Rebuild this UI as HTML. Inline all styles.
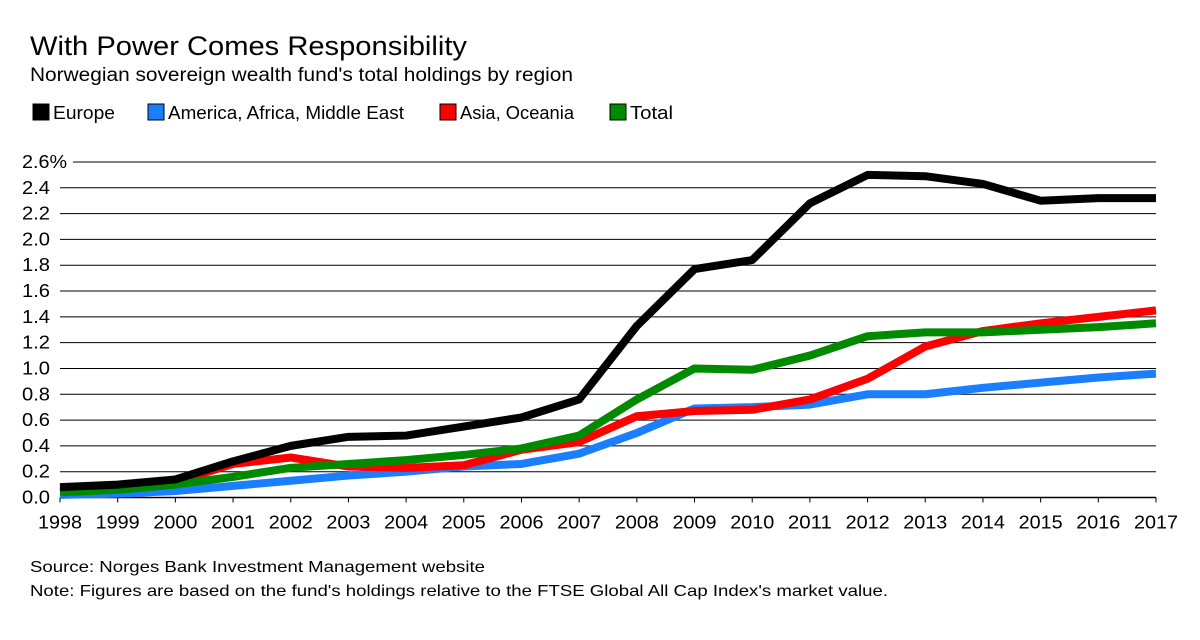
<!DOCTYPE html>
<html><head><meta charset="utf-8"><style>
body{margin:0;background:#fff;font-family:"Liberation Sans",Arial,sans-serif;}
svg text{font-family:"Liberation Sans",Arial,sans-serif;fill:#000;}
</style></head><body>
<svg width="1200" height="635" xmlns="http://www.w3.org/2000/svg">
<text x="30" y="55" font-size="27" textLength="437" lengthAdjust="spacingAndGlyphs">With Power Comes Responsibility</text>
<text x="30" y="81" font-size="19" textLength="543" lengthAdjust="spacingAndGlyphs">Norwegian sovereign wealth fund's total holdings by region</text>
<g id="legend"></g>
<g id="grid"></g>
<g id="series"></g>
<text x="30" y="572" font-size="16" textLength="455" lengthAdjust="spacingAndGlyphs">Source: Norges Bank Investment Management website</text>
<text x="30" y="596" font-size="16" textLength="858" lengthAdjust="spacingAndGlyphs">Note: Figures are based on the fund's holdings relative to the FTSE Global All Cap Index's market value.</text>
</svg>
<script>
const years=[1998,1999,2000,2001,2002,2003,2004,2005,2006,2007,2008,2009,2010,2011,2012,2013,2014,2015,2016,2017];
const europe=[0.08,0.10,0.14,0.28,0.40,0.47,0.48,0.55,0.62,0.76,1.33,1.77,1.84,2.28,2.50,2.49,2.43,2.30,2.32,2.32];
const america=[0.02,0.03,0.05,0.09,0.13,0.17,0.20,0.24,0.26,0.34,0.50,0.69,0.70,0.72,0.80,0.80,0.85,0.89,0.93,0.96];
const asia=[0.05,0.08,0.12,0.26,0.31,0.24,0.23,0.25,0.37,0.43,0.63,0.67,0.68,0.76,0.92,1.17,1.29,1.35,1.40,1.45];
const total=[0.04,0.06,0.10,0.16,0.23,0.26,0.29,0.33,0.38,0.48,0.76,1.00,0.99,1.10,1.25,1.28,1.28,1.30,1.32,1.35];
const yTicks=[0,0.2,0.4,0.6,0.8,1.0,1.2,1.4,1.6,1.8,2.0,2.2,2.4,2.6];
const yTickLabels=["0.0","0.2","0.4","0.6","0.8","1.0","1.2","1.4","1.6","1.8","2.0","2.2","2.4","2.6%"];
const NS="http://www.w3.org/2000/svg";
const X0=60,X1=1156,Y0=497.5,Y1=162;
const x=yr=>X0+(yr-years[0])/(years[years.length-1]-years[0])*(X1-X0);
const y=v=>Y0-v/2.6*(Y0-Y1);
function mk(tag,attrs,parent){const e=document.createElementNS(NS,tag);for(const k in attrs)e.setAttribute(k,attrs[k]);parent.appendChild(e);return e;}
const grid=document.getElementById('grid');
yTicks.forEach((t,i)=>{
  const last=i==yTicks.length-1;
  const l=mk('line',{x1:last?73:X0,x2:X1,y1:y(t),y2:y(t),stroke:'#000','stroke-width':i==0?1.5:1},grid);
  
  
  const tx=mk('text',{x:22,y:y(t)+6,'font-size':18,textLength:last?45:28,lengthAdjust:'spacingAndGlyphs'},grid);
  tx.textContent=yTickLabels[i];
  
  
});
years.forEach(yr=>{
  const l=mk('line',{x1:x(yr),x2:x(yr),y1:Y0,y2:Y0+5,stroke:'#000','stroke-width':1},grid);
  
  
  const tx=mk('text',{x:x(yr)-22,y:Y0+31,'font-size':18,textLength:44,lengthAdjust:'spacingAndGlyphs'},grid);
  tx.textContent=yr;
  
  
});
const ser=document.getElementById('series');
[[america,'#1a7eff','america-line'],[asia,'#ff0000','asia-line'],[total,'#008a00','total-line'],[europe,'#000','europe-line']].forEach(([d,c,n])=>{
  const p=mk('polyline',{points:d.map((v,i)=>x(years[i])+','+y(v)).join(' '),fill:'none',stroke:c,'stroke-width':8,'stroke-linejoin':'round'},ser);
  
  
});
const leg=document.getElementById('legend');
[['Europe','#000',33,62],['America, Africa, Middle East','#1a7eff',148,236],['Asia, Oceania','#ff0000',440,114],['Total','#008a00',610,43]].forEach(([t,c,lx,w])=>{
  const r=mk('rect',{x:lx,y:104,width:16,height:16,fill:c,stroke:'#000','stroke-width':1},leg);
  
  
  const tx=mk('text',{x:lx+20,y:119,'font-size':18,textLength:w,lengthAdjust:'spacingAndGlyphs'},leg);
  tx.textContent=t;
  
  
});
</script>
</body></html>
